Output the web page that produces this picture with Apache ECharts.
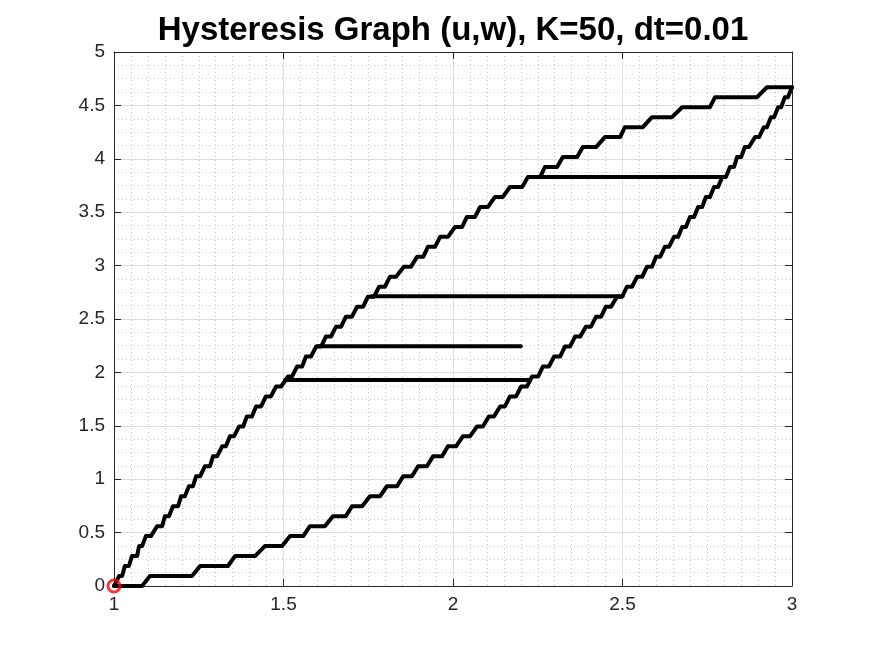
<!DOCTYPE html>
<html>
<head>
<meta charset="utf-8">
<title>Hysteresis Graph</title>
<script src="https://cdn.jsdelivr.net/npm/echarts@6/dist/echarts.min.js"></script>
<style>
  html, body { margin: 0; padding: 0; background: #fff; }
  #chart { width: 875px; height: 656px; }
</style>
</head>
<body>
<div id="chart"></div>
<script>
  // w levels of the staircase (one per step), shared by both branches
  var stepLevels = [0.000, 0.093, 0.187, 0.280, 0.374, 0.467, 0.560, 0.654, 0.747, 0.841,
                    0.934, 1.027, 1.121, 1.214, 1.308, 1.401, 1.494, 1.588, 1.681, 1.775,
                    1.868, 1.961, 2.055, 2.148, 2.242, 2.335, 2.428, 2.522, 2.615, 2.709,
                    2.802, 2.895, 2.989, 3.082, 3.176, 3.269, 3.362, 3.456, 3.549, 3.643,
                    3.736, 3.829, 3.923, 4.016, 4.110, 4.203, 4.296, 4.390, 4.483, 4.577,
                    4.670]

  // lower (ascending) branch: u where each flat step starts / ends
  var lowerStart = [1.000, 1.106, 1.254, 1.357, 1.445, 1.519, 1.578, 1.646, 1.702, 1.755,
                    1.805, 1.853, 1.897, 1.941, 1.985, 2.029, 2.071, 2.106, 2.139, 2.168,
                    2.201, 2.233, 2.265, 2.298, 2.330, 2.360, 2.392, 2.422, 2.451, 2.484,
                    2.513, 2.543, 2.572, 2.599, 2.625, 2.652, 2.676, 2.699, 2.723, 2.746,
                    2.770, 2.794, 2.817, 2.838, 2.861, 2.891, 2.917, 2.938, 2.959, 2.979,
                    3.000]
  var lowerEnd   = [1.083, 1.230, 1.336, 1.416, 1.496, 1.558, 1.622, 1.684, 1.732, 1.785,
                    1.835, 1.879, 1.923, 1.968, 2.009, 2.050, 2.088, 2.121, 2.153, 2.186,
                    2.218, 2.251, 2.283, 2.316, 2.345, 2.375, 2.407, 2.437, 2.466, 2.499,
                    2.528, 2.558, 2.587, 2.611, 2.637, 2.664, 2.687, 2.711, 2.735, 2.758,
                    2.782, 2.805, 2.829, 2.850, 2.873, 2.903, 2.926, 2.947, 2.968, 2.988,
                    3.000]

  // upper (descending) branch
  var upperStart = [1.000, 1.015, 1.032, 1.053, 1.074, 1.094, 1.127, 1.150, 1.174, 1.198,
                    1.221, 1.242, 1.268, 1.292, 1.319, 1.342, 1.369, 1.392, 1.419, 1.448,
                    1.478, 1.513, 1.540, 1.566, 1.596, 1.625, 1.655, 1.684, 1.717, 1.749,
                    1.782, 1.814, 1.855, 1.894, 1.926, 1.962, 2.006, 2.041, 2.080, 2.124,
                    2.168, 2.221, 2.271, 2.324, 2.383, 2.448, 2.507, 2.587, 2.676, 2.773,
                    2.926]
  var upperEnd   = [1.000, 1.024, 1.044, 1.068, 1.083, 1.109, 1.142, 1.162, 1.189, 1.209,
                    1.233, 1.254, 1.283, 1.304, 1.330, 1.354, 1.381, 1.407, 1.434, 1.463,
                    1.493, 1.525, 1.555, 1.581, 1.611, 1.640, 1.670, 1.702, 1.735, 1.767,
                    1.799, 1.832, 1.876, 1.912, 1.947, 1.985, 2.027, 2.065, 2.103, 2.147,
                    2.204, 2.257, 2.307, 2.366, 2.422, 2.493, 2.560, 2.646, 2.758, 2.897,
                    3.000]

  // inner reversals (horizontal chords): level, start u, end u
  var chordW    = [3.830, 2.712, 2.245, 1.930]
  var chordFrom = [2.240, 1.760, 1.600, 1.505]
  var chordTo   = [2.800, 2.500, 2.200, 2.228]

  var startPoint = [1, 0]

  function branch(starts, ends) {
    var pts = []
    for (var k = 0; k < stepLevels.length; k++) {
      pts.push([starts[k], stepLevels[k]])
      pts.push([ends[k], stepLevels[k]])
    }
    return pts
  }

  var blackLine = { color: '#000', width: 4, cap: 'round', join: 'round' }
  var axisColor = '#262626'
  var labelFont = '"Liberation Sans", Arial, sans-serif'

  var series = [
    { type: 'line', data: branch(lowerStart, lowerEnd) },
    { type: 'line', data: branch(upperStart, upperEnd) }
  ]
  for (var i = 0; i < chordW.length; i++) {
    series.push({ type: 'line', data: [[chordFrom[i], chordW[i]], [chordTo[i], chordW[i]]] })
  }
  series.forEach(function (s) {
    s.symbol = 'none'
    s.showSymbol = false
    s.clip = false
    s.lineStyle = blackLine
    s.itemStyle = { color: '#000' }
    s.z = 3
  })
  // start marker
  series.push({
    type: 'scatter',
    data: [startPoint],
    symbol: 'circle',
    symbolSize: 12,
    clip: false,
    z: 5,
    itemStyle: { color: 'rgba(0,0,0,0)', borderColor: '#ff0000', borderWidth: 3 }
  })

  function mainAxis(pos, min, max, minorSplit) {
    return {
      type: 'value', position: pos, min: min, max: max, interval: 0.5,
      axisLine: { show: true, onZero: false, lineStyle: { color: axisColor, width: 1 } },
      axisTick: { show: true, inside: true, length: 7, lineStyle: { color: axisColor } },
      axisLabel: { show: true, color: axisColor, fontSize: 19, fontFamily: labelFont, margin: 9 },
      splitLine: { show: true, lineStyle: { color: '#dedede', width: 1 } },
      minorTick: { show: false, splitNumber: minorSplit },
      minorSplitLine: { show: true, lineStyle: { color: '#c6c6c6', width: 1, type: [1, 3] } }
    }
  }
  function boxAxis(pos, min, max) {
    return {
      type: 'value', position: pos, min: min, max: max, interval: 0.5,
      axisLine: { show: true, onZero: false, lineStyle: { color: axisColor, width: 1 } },
      axisTick: { show: true, inside: true, length: 7, lineStyle: { color: axisColor } },
      axisLabel: { show: false },
      splitLine: { show: false }
    }
  }

  var chart = echarts.init(document.getElementById('chart'))
  chart.setOption({
    animation: false,
    backgroundColor: '#fff',
    grid: { left: 114, right: 83, top: 52, bottom: 70 },
    xAxis: [mainAxis('bottom', 1, 3, 10), boxAxis('top', 1, 3)],
    yAxis: [mainAxis('left', 0, 5, 4), boxAxis('right', 0, 5)],
    graphic: [{
      type: 'text',
      x: 453,
      y: 31,
      style: {
        text: 'Hysteresis Graph (u,w), K=50, dt=0.01',
        font: 'bold 33px "Liberation Sans", Arial, sans-serif',
        fill: '#000',
        align: 'center', textAlign: 'center',
        verticalAlign: 'middle', textVerticalAlign: 'middle'
      }
    }],
    series: series
  })
</script>
</body>
</html>
